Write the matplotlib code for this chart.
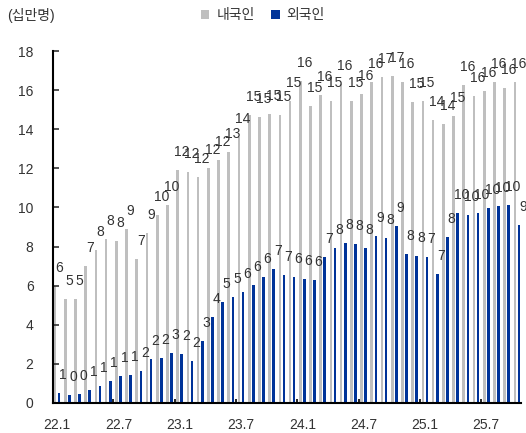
import numpy as np
import matplotlib
matplotlib.use('Agg')
import matplotlib.pyplot as plt

plt.rcParams['font.family'] = ['Liberation Sans', 'Noto Sans CJK KR', 'DejaVu Sans']

# monthly, 22.1 ~ 25.10 (unit: 100k persons)
months = [f'{y}.{m}' for y in (22, 23, 24, 25) for m in range(1, 13)][:46]
domestic = [6.0, 5.3, 5.3, 7.0, 7.8, 8.4, 8.3, 8.9, 7.35, 8.7, 9.6, 10.1,
            11.9, 11.8, 11.55, 12.0, 12.45, 12.85, 13.6, 14.75, 14.65, 14.8, 14.75, 15.45,
            16.45, 15.2, 15.75, 15.45, 16.3, 15.45, 15.8, 16.4, 16.65, 16.7, 16.4, 15.4,
            15.45, 14.45, 14.25, 14.7, 16.25, 15.7, 15.95, 16.4, 16.1, 16.4]
foreign = [0.51, 0.41, 0.47, 0.68, 0.87, 1.12, 1.37, 1.45, 1.62, 2.24, 2.3, 2.56,
           2.49, 2.15, 3.17, 4.38, 5.15, 5.4, 5.66, 6.02, 6.44, 6.87, 6.54, 6.43,
           6.36, 6.28, 7.48, 7.95, 8.2, 8.12, 7.95, 8.55, 8.45, 9.05, 7.6, 7.52,
           7.45, 6.6, 8.48, 9.7, 9.6, 9.7, 9.97, 10.05, 10.14, 9.09]
tick_labels = ['22.1', '22.7', '23.1', '23.7', '24.1', '24.7', '25.1', '25.7']

gray = '#bfbfbf'
blue = '#003399'

fig = plt.figure(figsize=(5.26, 4.33), dpi=100)
ax = fig.add_axes([53 / 526, 30 / 433, 468 / 526, 352 / 433])

x = np.arange(len(months))
w = 0.26
b1 = ax.bar(x - 0.2, domestic, w, color=gray, label='내국인')
b2 = ax.bar(x + 0.2, foreign, w, color=blue, label='외국인')

for bars in (b1, b2):
    for r in bars:
        h = r.get_height()
        ax.annotate(f'{h:.0f}', (r.get_x() + r.get_width() / 2, h),
                    xytext=(4, 18), textcoords='offset pixels',
                    ha='center', va='center', fontsize=10, color='#333333')

ax.set_xlim(-0.4, len(months) - 0.6)
ax.set_ylim(0, 18)
ax.set_yticks(range(0, 19, 2))
ax.set_xticks(range(0, len(months), 6))
ax.set_xticklabels(tick_labels)
ax.set_xticks(np.arange(5.5, len(months), 6), minor=True)
ax.tick_params(axis='x', which='major', length=0, pad=11, labelsize=10, colors='#333333')
ax.tick_params(axis='x', which='minor', direction='in', length=3, width=1.2)
ax.tick_params(axis='y', direction='in', length=4, width=1.2, labelsize=10,
               colors='#333333', pad=14)
for s in ('top', 'right'):
    ax.spines[s].set_visible(False)
ax.spines['left'].set_linewidth(1.5)
ax.spines['bottom'].set_linewidth(1.5)

fig.text(0.013, 0.965, '(십만명)', fontsize=10, color='#333333', va='center')
fig.legend(handles=[b1, b2], loc='center', bbox_to_anchor=(0.5, 0.965), ncol=2,
           frameon=False, fontsize=10, handlelength=0.6, handleheight=0.6,
           handletextpad=0.5, columnspacing=1.2, labelcolor='#333333')

plt.savefig('out.png')
